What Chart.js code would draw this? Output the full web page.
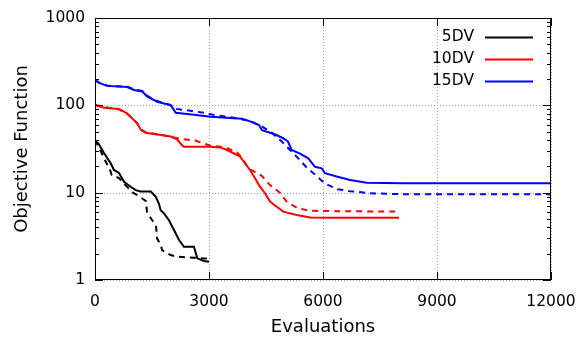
<!DOCTYPE html>
<html>
<head>
<meta charset="utf-8">
<script src="https://cdn.jsdelivr.net/npm/chart.js@4.4.0/dist/chart.umd.min.js"></script>
<style>
html, body { margin: 0; padding: 0; background: #fff; }
</style>
</head>
<body>
<canvas id="chart" width="579" height="338"></canvas>
<script>
// series labels and colours
const seriesNames = ['5DV', '10DV', '15DV'];
const seriesColors = ['#000000', '#ff0000', '#0000ff'];

// [evaluations, objective]
const dv5Solid = [[0,40],[100,36],[237,28.5],[320,25],[413,21.7],[500,18.2],[632,16.8],[763,13.3],[850,12.5],[939,11.7],
  [1071,10.7],[1203,10.3],[1466,10.3],[1597,9.0],[1680,7.5],[1729,6.3],[1816,5.8],[1950,4.8],[2079,3.74],[2211,2.87],
  [2342,2.4],[2605,2.4],[2692,1.77],[2868,1.65],[3000,1.62]];
const dv5Dashed = [[0,40],[150,30],[280,22.7],[400,18],[440,15.9],[632,14.7],[800,12.2],[1000,10],[1175,9.0],[1342,8.0],
  [1368,6.0],[1500,4.86],[1605,4.26],[1632,3.0],[1737,2.5],[1763,2.2],[1992,1.93],[2158,1.85],[2605,1.8],[3000,1.75]];

const dv10Solid = [[0,101],[237,94],[632,91],[842,81],[974,71],[1105,63],[1211,52],[1334,48.4],[1729,45.7],[1992,44],
  [2158,40.7],[2289,35],[2342,33.6],[3045,33.6],[3308,32.8],[3474,30.8],[3737,27],[3816,26],[3947,21.7],[4079,18.2],
  [4211,14.6],[4342,11.7],[4474,9.85],[4605,7.9],[4782,6.9],[4955,6.07],[5308,5.55],[5658,5.2],[6184,5.17],[8000,5.17]];
const dv10Dashed = [[0,101],[237,96],[632,90],[842,80],[974,72],[1105,62],[1211,53],[1334,49],[1729,46],[2000,43.5],
  [2289,41],[2640,39.5],[2900,36],[3045,34.5],[3308,33.5],[3500,32],[3737,29],[3900,24],[4034,19],[4387,15.6],
  [4605,12.2],[4868,10],[5045,7.9],[5342,6.6],[5658,6.2],[6100,6.15],[8000,6.07]];

const dv15Solid = [[0,195],[105,181],[324,167],[850,162],[1026,150],[1245,144],[1376,126],[1639,110],[1816,105],[1992,101],
  [2124,82],[2605,78],[3045,74],[3658,71],[3876,70],[4097,65],[4316,59.5],[4395,52],[4711,47],[4955,42],
  [5079,38.5],[5176,30.8],[5395,28],[5613,24.7],[5789,19.8],[5966,19],[6053,16.7],[6361,15.3],[6711,14],[7150,13],
  [8105,12.8],[12000,12.8]];
const dv15Dashed = [[0,195],[105,183],[324,168],[850,163],[1026,152],[1245,146],[1376,128],[1639,112],[1816,106],[1992,100],
  [2150,91],[2550,86],[2900,82],[3100,78],[3658,72],[4097,66],[4400,57],[4655,48.4],[4913,38.5],[5350,24.7],
  [5571,19.4],[5834,15.5],[6053,12.7],[6361,11],[6711,10.4],[7237,9.85],[8105,9.6],[12000,9.6]];

// axis ticks
const xTicks = [0, 3000, 6000, 9000, 12000];
const yTicks = [1,2,3,4,5,6,7,8,9,10,20,30,40,50,60,70,80,90,100,200,300,400,500,600,700,800,900,1000];
const yLabelled = [1, 10, 100, 1000];

Chart.defaults.font.family = 'DejaVu Sans';
Chart.defaults.color = '#000';

const toXY = arr => arr.map(p => ({x: p[0], y: p[1]}));

function makeSet(i, pts, dashed) {
  return {
    label: seriesNames[i],
    data: toXY(pts),
    borderColor: seriesColors[i],
    backgroundColor: seriesColors[i],
    borderWidth: 2,
    borderDash: dashed ? [6, 5] : [],
    pointRadius: 0,
    tension: 0,
    fill: false,
    showInLegend: !dashed
  };
}

// dotted grid at the labelled ticks, drawn under the curves
const gridPlugin = {
  id: 'dotgrid',
  beforeDatasetsDraw(chart) {
    const {ctx, chartArea: a, scales: {x, y}} = chart;
    ctx.save();
    ctx.strokeStyle = '#a0a0a0';
    ctx.lineWidth = 1;
    ctx.setLineDash([1, 2]);
    ctx.beginPath();
    xTicks.forEach(v => {
      const px = Math.round(x.getPixelForValue(v)) + 0.5;
      ctx.moveTo(px, a.bottom); ctx.lineTo(px, a.top);
    });
    yLabelled.forEach(v => {
      const py = Math.round(y.getPixelForValue(v)) + 0.5;
      ctx.moveTo(a.left, py); ctx.lineTo(a.right, py);
    });
    ctx.stroke();
    ctx.restore();
  }
};

const framePlugin = {
  id: 'frame',
  afterDatasetsDraw(chart) {
    const {ctx, chartArea: a, scales: {x, y}} = chart;
    ctx.save();
    ctx.strokeStyle = '#000';
    ctx.lineWidth = 1;
    ctx.setLineDash([]);
    ctx.strokeRect(a.left + 0.5, a.top + 0.5, a.right - a.left - 1, a.bottom - a.top - 1);
    ctx.beginPath();
    x.ticks.forEach(t => {
      const px = Math.round(x.getPixelForValue(t.value)) + 0.5;
      ctx.moveTo(px, a.bottom); ctx.lineTo(px, a.bottom - 8);
      ctx.moveTo(px, a.top); ctx.lineTo(px, a.top + 8);
    });
    y.ticks.forEach(t => {
      const len = yLabelled.includes(t.value) ? 8 : 4;
      const py = Math.round(y.getPixelForValue(t.value)) + 0.5;
      ctx.moveTo(a.left, py); ctx.lineTo(a.left + len, py);
      ctx.moveTo(a.right, py); ctx.lineTo(a.right - len, py);
    });
    ctx.stroke();

    // key, top right inside the plot
    ctx.font = '15.5px "DejaVu Sans"';
    ctx.textAlign = 'right';
    ctx.textBaseline = 'middle';
    let row = 0;
    chart.data.datasets.forEach(ds => {
      if (!ds.showInLegend) return;
      const ly = 37 + row * 22;
      ctx.fillStyle = '#000';
      ctx.fillText(ds.label, 474, ly);
      ctx.strokeStyle = ds.borderColor;
      ctx.lineWidth = 2;
      ctx.beginPath();
      ctx.moveTo(485, ly + 0.5); ctx.lineTo(533, ly + 0.5);
      ctx.stroke();
      row++;
    });
    ctx.restore();
  }
};

new Chart(document.getElementById('chart'), {
  type: 'line',
  data: {
    datasets: [
      makeSet(0, dv5Dashed, true), makeSet(0, dv5Solid, false),
      makeSet(1, dv10Dashed, true), makeSet(1, dv10Solid, false),
      makeSet(2, dv15Dashed, true), makeSet(2, dv15Solid, false)
    ]
  },
  options: {
    responsive: false,
    animation: false,
    devicePixelRatio: 1,
    layout: { padding: { top: 18, right: 28, left: 0, bottom: 0 } },
    plugins: { legend: { display: false }, tooltip: { enabled: false } },
    scales: {
      x: {
        type: 'linear',
        min: 0, max: 12000,
        afterBuildTicks: s => { s.ticks = xTicks.map(v => ({value: v})); },
        afterFit: s => { s.height = 58; s.paddingLeft = 0; s.paddingRight = 0; },
        ticks: { font: { size: 15.5 }, padding: 13, maxRotation: 0, autoSkip: false, callback: v => String(v) },
        grid: { display: false, drawTicks: false },
        border: { display: false },
        title: { display: true, text: 'Evaluations', font: { size: 18 }, padding: { top: 0, bottom: 0 } }
      },
      y: {
        type: 'logarithmic',
        min: 1, max: 1000,
        afterBuildTicks: s => { s.ticks = yTicks.map(v => ({value: v})); },
        afterFit: s => { s.width = 95; s.paddingTop = 0; s.paddingBottom = 0; },
        ticks: {
          font: { size: 15.5 }, padding: 10, autoSkip: false,
          callback: v => yLabelled.includes(v) ? String(v) : ''
        },
        grid: { display: false, drawTicks: false },
        border: { display: false },
        title: { display: true, text: 'Objective Function', font: { size: 18 }, padding: { top: 12, bottom: 0 } }
      }
    }
  },
  plugins: [gridPlugin, framePlugin]
});
</script>
</body>
</html>
